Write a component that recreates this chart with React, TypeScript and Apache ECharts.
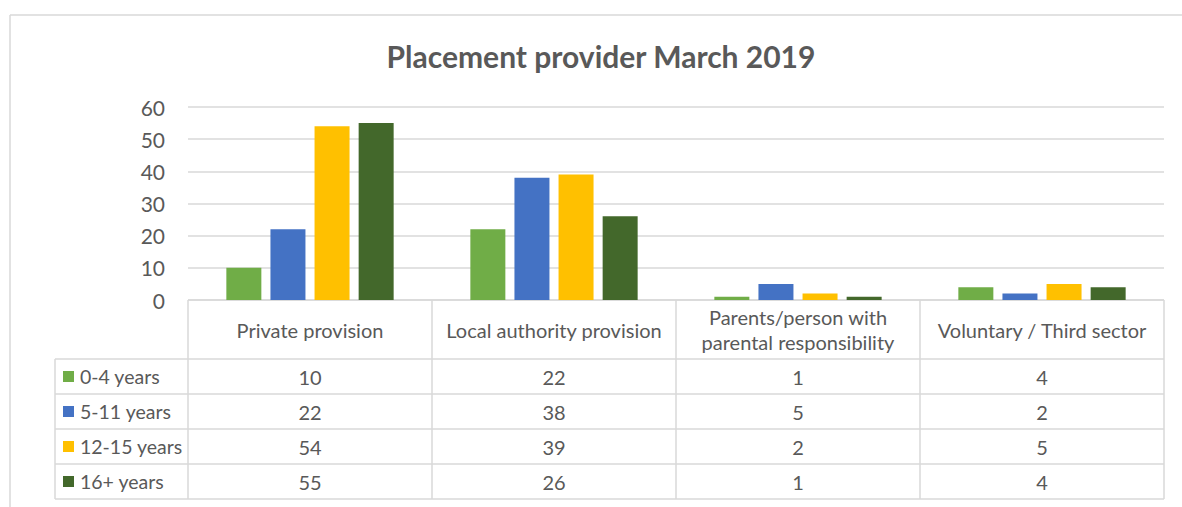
import React, { useEffect, useRef } from "react";
import * as echarts from "echarts";

const title = "Placement provider March 2019";
const categories = [
  "Private provision",
  "Local authority provision",
  "Parents/person with\nparental responsibility",
  "Voluntary / Third sector",
];
const seriesNames = ["0-4 years", "5-11 years", "12-15 years", "16+ years"];
const age0to4 = [10, 22, 1, 4];
const age5to11 = [22, 38, 5, 2];
const age12to15 = [54, 39, 2, 5];
const age16plus = [55, 26, 1, 4];
const seriesColors = ["#70AD47", "#4472C4", "#FFC000", "#43682B"];
const yMin = 0;
const yMax = 60;
const yInterval = 10;

const W = 1182;
const H = 507;
const GRID_LEFT = 188;
const GRID_RIGHT_X = 1164;
const GRID_TOP = 107;
const GRID_BOTTOM_Y = 300;
const HEADER_BOTTOM = 359;
const ROW_H = 35;
const LEGEND_LEFT = 55;
const TEXT = "#595959";
const LINE = "#D9D9D9";
const FONT = "Lato, 'Open Sans', sans-serif";

export default function App() {
  const ref = useRef<HTMLDivElement>(null);
  useEffect(() => {
    if (!ref.current) return;
    const chart = echarts.init(ref.current, undefined, { renderer: "svg", width: W, height: H });
    const allSeries = [age0to4, age5to11, age12to15, age16plus];
    const colW = (GRID_RIGHT_X - GRID_LEFT) / categories.length;
    const tableBottom = HEADER_BOTTOM + ROW_H * seriesNames.length;

    const graphics: any[] = [];
    const line = (x1: number, y1: number, x2: number, y2: number, w = 1) =>
      graphics.push({
        type: "line",
        shape: { x1, y1, x2, y2 },
        style: { stroke: LINE, lineWidth: w },
        silent: true,
      });
    // outer frame
    line(10, 15, W, 15, 1.5);
    line(10, 15, 10, H, 1.5);
    // table top border
    line(GRID_LEFT, GRID_BOTTOM_Y, GRID_RIGHT_X, GRID_BOTTOM_Y, 1.5);
    // column verticals
    for (let i = 0; i <= categories.length; i++) {
      const x = GRID_LEFT + colW * i;
      line(x, GRID_BOTTOM_Y, x, tableBottom, 1.5);
    }
    // legend column verticals
    line(LEGEND_LEFT, HEADER_BOTTOM, LEGEND_LEFT, tableBottom, 1.5);
    // row horizontals
    for (let r = 0; r <= seriesNames.length; r++) {
      const y = HEADER_BOTTOM + ROW_H * r;
      line(LEGEND_LEFT, y, GRID_RIGHT_X, y, 1.5);
    }
    // header texts
    categories.forEach((c, i) => {
      graphics.push({
        type: "text",
        x: GRID_LEFT + colW * (i + 0.5),
        y: (GRID_BOTTOM_Y + HEADER_BOTTOM) / 2,
        silent: true,
        style: {
          text: c,
          fill: TEXT,
          fontSize: 20,
          fontFamily: FONT,
          align: "center",
          verticalAlign: "middle",
          lineHeight: 25,
        },
      });
    });
    // rows
    seriesNames.forEach((name, r) => {
      const cy = HEADER_BOTTOM + ROW_H * (r + 0.5);
      graphics.push({
        type: "rect",
        shape: { x: 63, y: cy - 5.5, width: 11, height: 11 },
        style: { fill: seriesColors[r] },
        silent: true,
      });
      graphics.push({
        type: "text",
        x: 80,
        y: cy,
        silent: true,
        style: {
          text: name,
          fill: TEXT,
          fontSize: 19.5,
          fontFamily: FONT,
          align: "left",
          verticalAlign: "middle",
        },
      });
      allSeries[r].forEach((v, i) => {
        graphics.push({
          type: "text",
          x: GRID_LEFT + colW * (i + 0.5),
          y: cy,
          silent: true,
          style: {
            text: String(v),
            fill: TEXT,
            fontSize: 20,
            fontFamily: FONT,
            align: "center",
            verticalAlign: "middle",
          },
        });
      });
    });
    // title
    graphics.push({
      type: "text",
      x: 601,
      y: 56,
      silent: true,
      style: {
        text: title,
        fill: TEXT,
        fontSize: 30,
        fontWeight: "bold",
        fontFamily: FONT,
        align: "center",
        verticalAlign: "middle",
      },
    });

    chart.setOption({
      animation: false,
      backgroundColor: "#fff",
      grid: {
        left: GRID_LEFT,
        right: W - GRID_RIGHT_X,
        top: GRID_TOP,
        height: GRID_BOTTOM_Y - GRID_TOP,
      },
      xAxis: {
        type: "category",
        data: categories,
        axisLine: { show: false },
        axisTick: { show: false },
        axisLabel: { show: false },
      },
      yAxis: {
        type: "value",
        min: yMin,
        max: yMax,
        interval: yInterval,
        axisLine: { show: false },
        axisTick: { show: false },
        axisLabel: { color: TEXT, fontSize: 21, fontFamily: FONT, margin: 23 },
        splitLine: { lineStyle: { color: LINE, width: 1.5 } },
      },
      series: allSeries.map((d, i) => ({
        name: seriesNames[i],
        type: "bar",
        data: d,
        barWidth: 35,
        barGap: "26%",
        itemStyle: { color: seriesColors[i] },
      })),
      graphic: graphics,
    });
    return () => chart.dispose();
  }, []);
  return (
    <div
      ref={ref}
      style={{ position: "absolute", left: 0, top: 0, width: W, height: H }}
    />
  );
}
